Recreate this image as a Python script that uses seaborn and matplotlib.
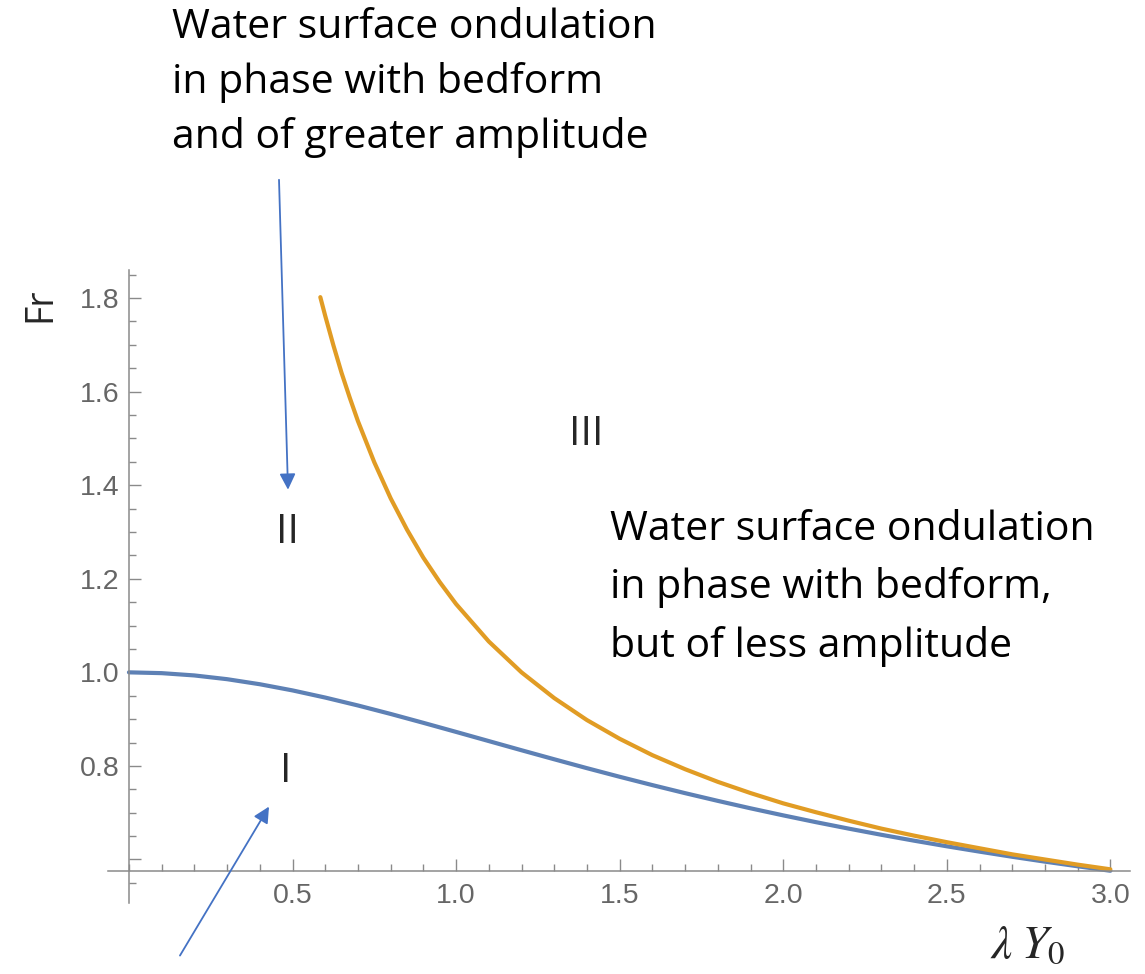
import numpy as np
import pandas as pd
import matplotlib
matplotlib.use("Agg")
import matplotlib.pyplot as plt
import matplotlib.ticker as mticker
import seaborn as sns

# values
x_lower = [0.0, 0.1, 0.2, 0.3, 0.4, 0.5, 0.6, 0.7, 0.8, 0.9, 1.0,
           1.1, 1.2, 1.3, 1.4, 1.5, 1.6, 1.7, 1.8, 1.9, 2.0,
           2.1, 2.2, 2.3, 2.4, 2.5, 2.6, 2.7, 2.8, 2.9, 3.0]
fr_lower = [1.000, 0.9983, 0.9934, 0.9854, 0.9746, 0.9614, 0.9461, 0.9292, 0.9111, 0.8921, 0.8727,
            0.8531, 0.8335, 0.8142, 0.7952, 0.7768, 0.7590, 0.7418, 0.7253, 0.7094, 0.6943,
            0.6798, 0.6660, 0.6528, 0.6402, 0.6282, 0.6168, 0.6058, 0.5954, 0.5855, 0.5759]

x_upper = [0.585, 0.6, 0.625, 0.65, 0.675, 0.7, 0.75, 0.8, 0.85, 0.9, 0.95, 1.0,
           1.1, 1.2, 1.3, 1.4, 1.5, 1.6, 1.7, 1.8, 1.9, 2.0,
           2.1, 2.2, 2.3, 2.4, 2.5, 2.6, 2.7, 2.8, 2.9, 3.0]
fr_upper = [1.802, 1.762, 1.699, 1.640, 1.587, 1.537, 1.449, 1.372, 1.305, 1.245, 1.193, 1.146,
            1.066, 1.000, 0.945, 0.898, 0.858, 0.823, 0.793, 0.766, 0.742, 0.720,
            0.701, 0.683, 0.666, 0.651, 0.637, 0.624, 0.611, 0.600, 0.589, 0.579]

y_major = [0.6, 0.8, 1.0, 1.2, 1.4, 1.6, 1.8]
x_major = [0.5, 1.0, 1.5, 2.0, 2.5, 3.0]

df = pd.concat([
    pd.DataFrame({"x": x_lower, "Fr": fr_lower, "curve": "lower"}),
    pd.DataFrame({"x": x_upper, "Fr": fr_upper, "curve": "upper"}),
])

sns.set_style("white")
plt.rcParams["font.family"] = ["Liberation Sans", "DejaVu Sans"]
plt.rcParams["mathtext.fontset"] = "stix"

W, H = 1145, 974
fig = plt.figure(figsize=(W / 100, H / 100), dpi=100)
ax = fig.add_axes([108 / W, 1 - 903 / H, 1022 / W, 633 / H])

sns.lineplot(data=df, x="x", y="Fr", hue="curve",
             palette={"lower": "#5E81B5", "upper": "#E19C24"},
             linewidth=3.0, legend=False, ax=ax, sort=False)

ax.set_xlim(-0.064, 3.06)
ax.set_ylim(0.507, 1.86)
ax.set_xlabel("")
ax.set_ylabel("")

for s in ["top", "right"]:
    ax.spines[s].set_visible(False)
ax.spines["left"].set_position(("data", 0))
ax.spines["bottom"].set_position(("data", 0.576))
for s in ["left", "bottom"]:
    ax.spines[s].set_color("#8a8a8a")
    ax.spines[s].set_linewidth(1.1)

ax.xaxis.set_major_locator(mticker.FixedLocator(x_major))
ax.xaxis.set_minor_locator(mticker.MultipleLocator(0.1))
ax.yaxis.set_major_locator(mticker.FixedLocator(y_major))
ax.yaxis.set_minor_locator(mticker.MultipleLocator(0.05))
ax.yaxis.set_major_formatter(mticker.FuncFormatter(lambda v, p: "" if abs(v - 0.6) < 1e-6 else f"{v:.1f}"))
ax.xaxis.set_major_formatter(mticker.FuncFormatter(lambda v, p: f"{v:.1f}"))

ax.tick_params(which="both", direction="in", color="#8a8a8a", width=1.0,
               bottom=True, left=True, top=False, right=False,
               labelcolor="#666666", labelsize=20.5)
ax.tick_params(which="major", length=8.4)
ax.tick_params(which="minor", length=5)
ax.tick_params(axis="x", which="major", pad=9)
ax.tick_params(axis="y", which="major", pad=7)
ax.grid(False)

def px(x, y):
    return ((x - 129) / 327.0, 1.0 - (y - 670.7) / 468.0)

arrow = dict(arrowstyle="-|>", color="#4472C4", lw=1.3, mutation_scale=24,
             shrinkA=0, shrinkB=0)
ax.annotate("", xy=px(288, 488), xytext=px(279, 178), arrowprops=arrow,
            annotation_clip=False)
ax.annotate("", xy=px(269, 805), xytext=px(180, 954), arrowprops=arrow,
            annotation_clip=False)

txt_font = ["Open Sans", "DejaVu Sans"]
fs = 29.5

def ftext(x, y, s, **kw):
    fig.text(x / W, 1 - y / H, s, **kw)

for i, line in enumerate(["Water surface ondulation", "in phase with bedform",
                          "and of greater amplitude"]):
    ftext(172, 38 + 55 * i, line, fontsize=fs, family=txt_font, va="baseline", color="black")

for i, line in enumerate(["Water surface ondulation", "in phase with bedform,",
                          "but of less amplitude"]):
    ftext(610, 540 + 58.5 * i, line, fontsize=fs, family=txt_font, va="baseline", color="black")

ftext(586, 445, "III", fontsize=fs, family=txt_font, ha="center", va="baseline")
ftext(287, 543, "II", fontsize=fs, family=txt_font, ha="center", va="baseline")
ftext(286, 782, "I", fontsize=fs, family=txt_font, ha="center", va="baseline")

ftext(40, 305, "Fr", fontsize=27, family=txt_font, rotation=90, ha="center", va="center")
ftext(990, 958, r"$\lambda\;Y_0$", fontsize=34, va="baseline")

fig.savefig("out.png", dpi=100)
